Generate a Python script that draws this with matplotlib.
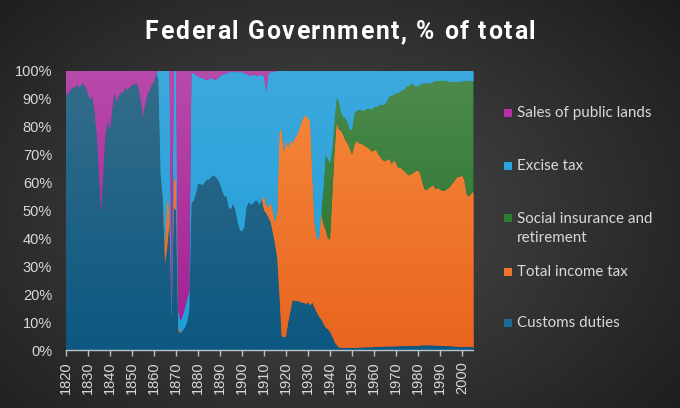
import numpy as np
import matplotlib
matplotlib.use("Agg")
import matplotlib.pyplot as plt
from matplotlib.colors import LinearSegmentedColormap, to_rgb
from matplotlib.patches import Rectangle
from matplotlib.path import Path

# ==========================
# data: share of federal receipts, % (1820-2005)
# ==========================
years = list(range(1820, 2006))

customs = [
    91, 92, 93, 94, 94, 95, 94, 95, 95.5, 94,            # 1820s
    92, 89.5, 91, 85, 77, 63, 49, 64, 78, 82,            # 1830s
    79, 86, 92, 89, 91, 92, 92.5, 94, 93, 94,            # 1840s
    95, 95, 95.5, 94, 89, 83.5, 88, 91.5, 93, 95,        # 1850s
    96, 99, 97, 63, 54, 31, 37, 46, 11, 51,              # 1860s
    50, 7, 6, 7, 8, 10, 14, 52.5, 53.5, 56,              # 1870s
    59.5, 59.5, 59, 60, 61, 61, 62, 62.5, 62, 61,        # 1880s
    59.5, 57, 55, 55, 51, 50.5, 52.5, 50, 46, 43,        # 1890s
    42.5, 44, 51, 53, 52, 52.5, 53.5, 53.5, 52, 54,      # 1900s
    50, 49, 47.5, 46, 42, 38, 33, 20, 5, 4.5,            # 1910s
    5, 10, 14, 18, 17.5, 17.5, 17.5, 17, 17, 16.5,       # 1920s
    17, 16, 17, 15, 13.5, 12, 11, 9.5, 8, 7.5,           # 1930s
    6.5, 5, 3, 1.8, 1, 0.8, 0.8, 0.8, 0.8, 0.8,          # 1940s
    0.8, 0.8, 0.8, 0.9, 0.9, 1, 1, 1, 1, 1,              # 1950s
    1.1, 1.1, 1.2, 1.2, 1.2, 1.3, 1.3, 1.3, 1.3, 1.3,    # 1960s
    1.3, 1.4, 1.4, 1.4, 1.4, 1.4, 1.5, 1.5, 1.5, 1.5,    # 1970s
    1.5, 1.6, 1.7, 1.7, 1.7, 1.7, 1.7, 1.6, 1.6, 1.6,    # 1980s
    1.5, 1.5, 1.5, 1.4, 1.4, 1.4, 1.3, 1.2, 1.2, 1.1,    # 1990s
    1.1, 1.1, 1.1, 1.1, 1.1, 1.1,                        # 2000s
]

income_tax = [
    0, 0, 0, 0, 0, 0, 0, 0, 0, 0,                        # 1820s
    0, 0, 0, 0, 0, 0, 0, 0, 0, 0,                        # 1830s
    0, 0, 0, 0, 0, 0, 0, 0, 0, 0,                        # 1840s
    0, 0, 0, 0, 0, 0, 0, 0, 0, 0,                        # 1850s
    0, 0, 0, 0, 1, 6, 17, 5, 0, 11,                      # 1860s
    10, 1, 0.5, 0, 0, 0, 0, 0, 0, 0,                     # 1870s
    0, 0, 0, 0, 0, 0, 0, 0, 0, 0,                        # 1880s
    0, 0, 0, 0, 0, 0, 0, 0, 0, 0,                        # 1890s
    0, 0, 0, 0, 0, 0, 0, 0, 0, 0,                        # 1900s
    5, 3, 3.5, 7, 8, 8, 16, 58, 74, 66.5,                # 1910s
    70, 62.5, 61, 56, 58.5, 59.5, 61.5, 64.5, 66.5, 67.5,  # 1920s
    66, 66, 45, 30, 26.5, 27.5, 38, 35.5, 35, 32.5,      # 1930s
    33, 50, 67, 79.9, 78, 77.7, 76.2, 74.2, 73.2, 71.2,  # 1940s
    69.2, 72.2, 74.2, 73.1, 73.1, 72.5, 72, 71.5, 71, 70,  # 1950s
    70.4, 70.5, 68.8, 67.8, 66.8, 66.2, 66.7, 67.2, 65.2, 66.7,  # 1960s
    65.7, 63.6, 64.1, 63.1, 62.6, 61.6, 61, 61.5, 62, 62.5,      # 1970s
    62.9, 61.4, 58.3, 55.8, 55.6, 56.3, 56.8, 57.4, 55.9, 56.4,  # 1980s
    56, 55.5, 55.5, 56.1, 56.6, 57.6, 58.7, 59.8, 60.8, 60.9,    # 1990s
    61.5, 59.9, 54.9, 53.8, 54.7, 55.6,                          # 2000s
]

social_insurance = [
    0, 0, 0, 0, 0, 0, 0, 0, 0, 0,                        # 1820s
    0, 0, 0, 0, 0, 0, 0, 0, 0, 0,                        # 1830s
    0, 0, 0, 0, 0, 0, 0, 0, 0, 0,                        # 1840s
    0, 0, 0, 0, 0, 0, 0, 0, 0, 0,                        # 1850s
    0, 0, 0, 0, 0, 0, 0, 0, 0, 0,                        # 1860s
    0, 0, 0, 0, 0, 0, 0, 0, 0, 0,                        # 1870s
    0, 0, 0, 0, 0, 0, 0, 0, 0, 0,                        # 1880s
    0, 0, 0, 0, 0, 0, 0, 0, 0, 0,                        # 1890s
    0, 0, 0, 0, 0, 0, 0, 0, 0, 0,                        # 1900s
    0, 0, 0, 0, 0, 0, 0, 0, 0, 0,                        # 1910s
    0, 0, 0, 0, 0, 0, 0, 0, 0, 0,                        # 1920s
    0, 0, 0, 0, 0, 0, 0, 13, 27, 28.5,                   # 1930s
    27.3, 17, 12, 8.8, 10, 6.5, 6.5, 8, 7.5, 7,          # 1940s
    8.8, 11.5, 10.5, 12, 12, 12, 13, 14, 14.5, 15,       # 1950s
    15.5, 15.4, 17.5, 19, 19.6, 20.5, 21.5, 22.2, 24.5, 23.5,  # 1960s
    24.9, 27, 27, 28.5, 29.5, 31.5, 32, 32.5, 31.5, 30.3,      # 1970s
    30.1, 32, 35.5, 38, 38.2, 37.5, 37, 37, 38.8, 38.3,        # 1980s
    38.9, 39.4, 39.5, 38.8, 38, 37, 36, 35, 34, 34,            # 1990s
    33.6, 35.3, 40.4, 41.5, 40.6, 39.7,                        # 2000s
]

excise_tax = [
    0, 0, 0, 0, 0, 0, 0, 0, 0, 0,                        # 1820s
    0, 0, 0, 0, 0, 0, 0, 0, 0, 0,                        # 1830s
    0, 0, 0, 0, 0, 0, 0, 0, 0, 0,                        # 1840s
    0, 0, 0, 0, 0, 0, 0, 0, 0, 0,                        # 1850s
    0, 0, 3, 37, 45, 63, 46, 49, 2, 38,                  # 1860s
    40, 6, 4, 5, 7, 8, 7, 47, 45.5, 42.5,                # 1870s
    38.5, 38, 38.5, 37, 35.5, 36, 35.5, 34.5, 34.5, 36.5,  # 1880s
    38.5, 41.5, 44, 44, 48.5, 49, 47, 49.5, 53.5, 56.5,  # 1890s
    57, 55, 48, 45.5, 46, 46, 45, 44.5, 46.5, 44.5,      # 1900s
    43, 40.5, 48, 46.5, 49.5, 53.7, 51, 22, 21, 29,      # 1910s
    25, 27.5, 25, 26, 24, 23, 21, 18.5, 16.5, 16,        # 1920s
    17, 18, 38, 55, 60, 60.5, 51, 42, 30, 31.5,          # 1930s
    33.2, 28, 18, 9.5, 11, 15, 16.5, 17, 18.5, 21,       # 1940s
    21.2, 15.5, 14.5, 14, 14, 14.5, 14, 13.5, 13.5, 14,  # 1950s
    13, 13, 12.5, 12, 12.4, 12, 10.5, 9.3, 9, 8.5,       # 1960s
    8.1, 8, 7.5, 7, 6.5, 5.5, 5.5, 4.5, 5, 5.7,          # 1970s
    5.5, 5, 4.5, 4.5, 4.5, 4.5, 4.5, 4, 3.7, 3.7,        # 1980s
    3.6, 3.6, 3.5, 3.7, 4, 4, 4, 4, 4, 4,                # 1990s
    3.8, 3.7, 3.6, 3.6, 3.6, 3.6,                        # 2000s
]

public_lands = [
    9, 8, 7, 6, 6, 5, 6, 5, 4.5, 6,                      # 1820s
    8, 10.5, 9, 15, 23, 37, 51, 36, 22, 18,              # 1830s
    21, 14, 8, 11, 9, 8, 7.5, 6, 7, 6,                   # 1840s
    5, 5, 4.5, 6, 11, 16.5, 12, 8.5, 7, 5,               # 1850s
    4, 1, 0, 0, 0, 0, 0, 0, 87, 0,                       # 1860s
    0, 86, 89.5, 88, 85, 82, 79, 0.5, 1, 1.5,            # 1870s
    2, 2.5, 2.5, 3, 3.5, 3, 2.5, 3, 3.5, 2.5,            # 1880s
    2, 1.5, 1, 1, 0.5, 0.5, 0.5, 0.5, 0.5, 0.5,          # 1890s
    0.5, 1, 1, 1.5, 2, 1.5, 1.5, 2, 1.5, 1.5,            # 1900s
    2, 7.5, 1, 0.5, 0.5, 0.3, 0, 0, 0, 0,                # 1910s
    0, 0, 0, 0, 0, 0, 0, 0, 0, 0,                        # 1920s
    0, 0, 0, 0, 0, 0, 0, 0, 0, 0,                        # 1930s
    0, 0, 0, 0, 0, 0, 0, 0, 0, 0,                        # 1940s
    0, 0, 0, 0, 0, 0, 0, 0, 0, 0,                        # 1950s
    0, 0, 0, 0, 0, 0, 0, 0, 0, 0,                        # 1960s
    0, 0, 0, 0, 0, 0, 0, 0, 0, 0,                        # 1970s
    0, 0, 0, 0, 0, 0, 0, 0, 0, 0,                        # 1980s
    0, 0, 0, 0, 0, 0, 0, 0, 0, 0,                        # 1990s
    0, 0, 0, 0, 0, 0,                                    # 2000s
]

# stacked bottom -> top
series = [customs, income_tax, social_insurance, excise_tax, public_lands]
# (bottom colour, top colour) of each fill gradient
fills = [
    ("#0c5881", "#356d8b"),
    ("#e9641f", "#f68b3d"),
    ("#1f6d2b", "#4d8b4b"),
    ("#1f9ed8", "#3ca9de"),
    ("#a21d92", "#b84aab"),
]

legend_labels = ["Sales of public lands", "Excise tax",
                 "Social insurance and\nretirement", "Total income tax",
                 "Customs duties"]
legend_colors = ["#b52fa6", "#26a5e1", "#2d7d33", "#f07430", "#1e6896"]

TITLE = "Federal Government, % of total"

W, H = 680, 408
fig = plt.figure(figsize=(W / 100, H / 100), dpi=100)

# ======================
# background (radial gray)
# ======================
yy, xx = np.mgrid[0:H, 0:W]
r = np.sqrt(((xx - 320) / 470.0) ** 2 + ((yy - 215) / 330.0) ** 2)
r = np.clip(r, 0, 1)
c_in = np.array(to_rgb("#4c4c4c"))
c_out = np.array(to_rgb("#1c1c1c"))
bg_img = c_in[None, None, :] * (1 - r[..., None]) + c_out[None, None, :] * r[..., None]
bg = fig.add_axes([0, 0, 1, 1], zorder=-10)
bg.imshow(bg_img, aspect="auto", extent=[0, 1, 0, 1], interpolation="bilinear")
bg.axis("off")

# ======================
# stacked area
# ======================
ax = fig.add_axes([66 / W, 1 - 350 / H, 407 / W, 279.3 / H])
ax.set_facecolor("none")

polys = ax.stackplot(years, *series,
                     colors=[f[0] for f in fills], linewidth=0.4)
grad = np.linspace(0, 1, 256).reshape(-1, 1)
for poly, (c0, c1) in zip(polys, fills):
    poly.set_edgecolor(c0)
    cmap = LinearSegmentedColormap.from_list("g", [c0, c1])
    im = ax.imshow(grad, extent=[1820, 2005, 0, 100], origin="lower",
                   aspect="auto", cmap=cmap, zorder=poly.get_zorder() + 0.1,
                   interpolation="bilinear")
    im.set_clip_path(Path.make_compound_path(*poly.get_paths()), ax.transData)

ax.set_xlim(1820, 2005)
ax.set_ylim(0, 100)

tick_color = "#d9d9d9"
ax.set_yticks(range(0, 101, 10))
ax.set_yticklabels([f"{v}%" for v in range(0, 101, 10)])
ax.set_xticks(range(1820, 2001, 10))
ax.set_xticklabels([str(v) for v in range(1820, 2001, 10)], rotation=90)

ax.tick_params(axis="y", length=0, pad=10, labelsize=10.5,
               labelcolor=tick_color)
ax.tick_params(axis="x", length=4, width=1, color="#b9c3ca", pad=4,
               labelsize=10.5, labelcolor=tick_color)
for lbl in ax.get_xticklabels() + ax.get_yticklabels():
    lbl.set_fontfamily("Liberation Sans")

for side in ["top", "right", "left"]:
    ax.spines[side].set_visible(False)
ax.spines["bottom"].set_color("#b9c3ca")
ax.spines["bottom"].set_linewidth(1)
ax.spines["bottom"].set_zorder(10)

# ======================
# title (letter-spaced) + legend
# ======================
renderer = fig.canvas.get_renderer()
title_kw = dict(color="white", fontsize=17.8, fontweight="bold",
                family=["Roboto", "DejaVu Sans"], va="baseline", ha="left")


def text_w(s):
    t = fig.text(0, 0, s, **title_kw)
    w = t.get_window_extent(renderer).width
    t.remove()
    return w


bar_w = text_w("|")
spacing = 1.65
total = text_w(TITLE) + spacing * (len(TITLE) - 1)
x0 = 340 - total / 2
for i, ch in enumerate(TITLE):
    if ch == " ":
        continue
    x = x0 + text_w(TITLE[:i] + "|") - bar_w + i * spacing
    fig.text(x / W, 1 - 39.3 / H, ch, **title_kw)

legend_y = [113, 166, 228.5, 272, 323]
for lab, col, yc in zip(legend_labels, legend_colors, legend_y):
    sq_y = yc if "\n" not in lab else yc - 10.5
    fig.add_artist(Rectangle((504 / W, 1 - (sq_y + 4) / H), 8 / W, 8 / H,
                             transform=fig.transFigure, facecolor=col,
                             edgecolor="none"))
    fig.text(517 / W, 1 - yc / H, lab, ha="left", va="center",
             color=tick_color, fontsize=10.9, linespacing=1.4,
             family=["Lato", "DejaVu Sans"])

fig.savefig("out.png", dpi=100)
